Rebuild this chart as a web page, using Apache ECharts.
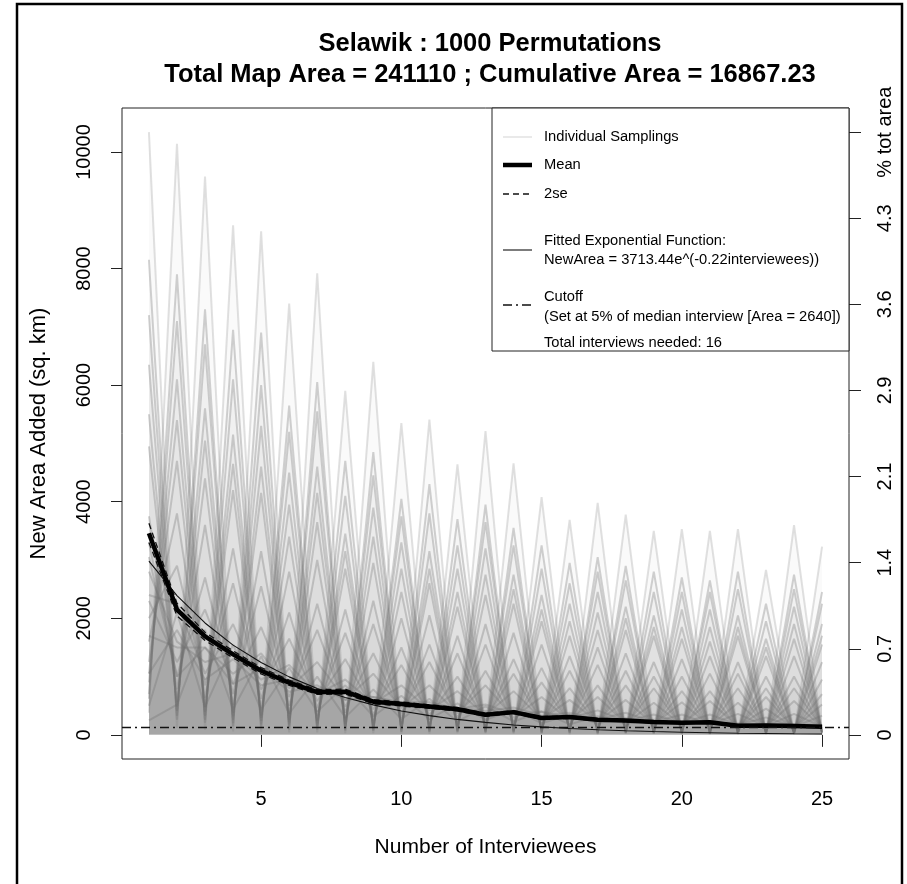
<!DOCTYPE html>
<html>
<head>
<meta charset="utf-8">
<script src="https://cdn.jsdelivr.net/npm/echarts@6/dist/echarts.min.js"></script>
<style>
  html, body { margin: 0; padding: 0; background: #fff; }
  #chart { width: 907px; height: 884px; }
</style>
</head>
<body>
<div id="chart"></div>
<script>
// number of interviewees on the x axis
const interviewees = [1, 2, 3, 4, 5, 6, 7, 8, 9, 10, 11, 12, 13, 14, 15, 16, 17, 18, 19, 20, 21, 22, 23, 24, 25];

// a handful of the individual samplings
const samplingA1 = [10340, 120, 9580, 60, 8640, 40, 7920, 30, 6400, 20, 5410, 30, 5210, 20, 4080, 10, 3980, 20, 3500, 10, 3500, 10, 2830, 10, 3230];
const samplingB1 = [380, 10140, 90, 8740, 50, 7400, 40, 5900, 30, 5350, 20, 4640, 30, 4660, 20, 3690, 10, 3780, 20, 3530, 10, 3530, 10, 3600, 20];
const samplingA2 = [8150, 260, 7300, 150, 6900, 90, 6050, 70, 4850, 50, 4300, 60, 3950, 40, 3250, 30, 3050, 40, 2800, 20, 2650, 30, 2250, 20, 2450];
const samplingB2 = [620, 7900, 210, 6950, 140, 5650, 90, 4700, 70, 4050, 50, 3700, 40, 3550, 30, 2950, 20, 2900, 30, 2700, 20, 2800, 20, 2750, 30];
const samplingA11 = [7200, 330, 6700, 200, 6000, 130, 5550, 90, 4450, 60, 3800, 50, 3650, 50, 2850, 40, 2800, 30, 2450, 30, 2450, 20, 1950, 30, 2250];
const samplingB11 = [700, 7100, 260, 6100, 180, 5200, 120, 4100, 80, 3750, 60, 3250, 50, 3250, 40, 2600, 30, 2650, 30, 2450, 20, 2500, 20, 2500, 40];
const samplingA3 = [6350, 410, 5600, 260, 5300, 180, 4600, 120, 3900, 90, 3150, 70, 3200, 60, 2400, 50, 2450, 40, 2050, 30, 2150, 30, 1650, 30, 1900];
const samplingB3 = [900, 6100, 330, 5150, 240, 4500, 160, 3450, 110, 3300, 80, 2850, 60, 2750, 50, 2250, 40, 2200, 30, 2150, 30, 2050, 20, 2200, 40];
const samplingA12 = [5500, 480, 5050, 320, 4600, 220, 4150, 150, 3400, 110, 2850, 90, 2750, 70, 2150, 60, 2100, 50, 1850, 40, 1850, 40, 1500, 30, 1700];
const samplingB12 = [1050, 5400, 400, 4650, 290, 3950, 200, 3150, 140, 2850, 100, 2450, 80, 2500, 60, 1950, 50, 2000, 40, 1850, 30, 1850, 30, 1900, 40];
const samplingA4 = [4950, 560, 4400, 380, 4150, 260, 3650, 190, 2950, 130, 2600, 110, 2400, 90, 1950, 70, 1800, 60, 1700, 50, 1600, 40, 1350, 40, 1550];
const samplingB4 = [1250, 4700, 480, 4200, 330, 3400, 240, 2850, 170, 2450, 130, 2200, 100, 2250, 80, 1700, 60, 1800, 50, 1650, 40, 1700, 40, 1650, 50];
const samplingA5 = [3750, 780, 3600, 520, 3150, 370, 3000, 270, 2300, 200, 2050, 160, 1900, 130, 1550, 100, 1500, 80, 1250, 70, 1350, 60, 1000, 50, 1250];
const samplingB5 = [1600, 3800, 640, 3200, 460, 2800, 330, 2150, 250, 2000, 190, 1700, 150, 1750, 110, 1350, 90, 1400, 70, 1300, 60, 1250, 50, 1350, 60];
const samplingA6 = [3050, 1000, 2700, 700, 2550, 500, 2250, 380, 1900, 290, 1550, 230, 1550, 180, 1150, 150, 1200, 120, 1000, 100, 1050, 90, 800, 70, 950];
const samplingB6 = [2000, 2900, 850, 2600, 620, 2100, 460, 1750, 340, 1500, 260, 1400, 210, 1300, 170, 1100, 130, 1100, 110, 1000, 90, 1050, 80, 1000, 90];
const samplingA7 = [2300, 1250, 2150, 880, 1850, 650, 1800, 480, 1400, 370, 1250, 300, 1100, 240, 900, 190, 850, 160, 800, 130, 750, 110, 650, 100, 700];
const samplingB7 = [2400, 2250, 1050, 1900, 780, 1650, 580, 1300, 440, 1200, 340, 1000, 270, 1050, 220, 800, 180, 850, 140, 750, 120, 800, 100, 800, 110];
const samplingA8 = [1700, 1500, 1500, 1050, 1400, 800, 1250, 600, 1050, 460, 850, 370, 850, 300, 650, 240, 650, 200, 550, 170, 580, 140, 450, 120, 520];
const samplingB8 = [2800, 1600, 1250, 1400, 950, 1200, 700, 950, 540, 850, 420, 750, 340, 750, 270, 600, 220, 600, 180, 560, 150, 550, 130, 580, 120];
const samplingA9 = [1050, 1800, 950, 1300, 850, 950, 800, 720, 650, 560, 560, 450, 520, 360, 400, 290, 420, 240, 350, 200, 350, 170, 300, 140, 330];
const samplingB9 = [3300, 1000, 1500, 870, 1150, 740, 850, 600, 650, 540, 510, 460, 410, 470, 330, 380, 270, 380, 220, 350, 180, 360, 150, 360, 140];
const samplingA10 = [500, 2100, 480, 1550, 430, 1150, 400, 850, 320, 670, 270, 540, 260, 430, 200, 350, 200, 290, 180, 240, 180, 200, 140, 170, 160];
const samplingB10 = [250, 520, 1800, 440, 1350, 370, 1000, 300, 780, 270, 620, 230, 490, 230, 400, 180, 320, 190, 260, 180, 210, 180, 180, 180, 170];

// mean of all samplings and its 2se band
const meanArea = [3460, 2150, 1690, 1380, 1100, 895, 735, 740, 570, 530, 485, 440, 345, 390, 290, 305, 260, 245, 220, 210, 215, 155, 160, 150, 140];
const upper2se = [3630, 2260, 1760, 1440, 1155, 940, 775, 785, 605, 565, 515, 470, 370, 415, 312, 325, 280, 262, 236, 225, 230, 168, 172, 162, 150];
const lower2se = [3300, 2040, 1620, 1320, 1045, 850, 695, 700, 535, 495, 455, 410, 320, 365, 268, 285, 240, 228, 204, 195, 200, 142, 148, 138, 130];

// fitted exponential, NewArea = 3713.44e^(-0.22 interviewees)
const fittedArea = [2980, 2390, 1920, 1540, 1240, 995, 795, 640, 515, 410, 330, 265, 215, 170, 137, 110, 88, 71, 57, 46, 37, 29, 24, 19, 15];

// cutoff: 5% of median interview area (2640)
const cutoffArea = 132;

// tick labels
const xTicks = [5, 10, 15, 20, 25];
const yTicks = [0, 2000, 4000, 6000, 8000, 10000];
const pctTicks = [0, 1477, 2954, 4431, 5909, 7386, 8863, 10340];
const pctLabels = ['0', '0.7', '1.4', '2.1', '2.9', '3.6', '4.3', '% tot area'];

const samplings = [
  samplingA1, samplingB1, samplingA2, samplingB2, samplingA11, samplingB11, samplingA3, samplingB3,
  samplingA12, samplingB12, samplingA4, samplingB4, samplingA5, samplingB5, samplingA6, samplingB6,
  samplingA7, samplingB7, samplingA8, samplingB8, samplingA9, samplingB9, samplingA10, samplingB10
];

const FONT = "'Liberation Sans', Arial, Helvetica, sans-serif";
const pairs = (ys) => interviewees.map((x, i) => [x, ys[i]]);

const chart = echarts.init(document.getElementById('chart'), null, { renderer: 'canvas' });

// 1000 overlapping lines read as a grey mass: each sampling gets a faint fill under it
const series = samplings.map((s, i) => ({
  name: 'Individual Samplings',
  type: 'line',
  data: pairs(s),
  symbol: 'none',
  silent: true,
  z: 1,
  lineStyle: { color: i < 2 ? 'rgba(120,120,120,0.22)' : 'rgba(110,110,110,0.3)', width: 2 },
  areaStyle: { color: 'rgba(115,115,115,0.05)', origin: 'auto' },
}));

series.push(
  {
    name: '2se upper',
    type: 'line',
    data: pairs(upper2se),
    symbol: 'none',
    z: 3,
    lineStyle: { color: '#111', width: 1.3, type: [6, 4] },
  },
  {
    name: '2se lower',
    type: 'line',
    data: pairs(lower2se),
    symbol: 'none',
    z: 3,
    lineStyle: { color: '#111', width: 1.3, type: [6, 4] },
  },
  {
    name: 'Fitted',
    type: 'line',
    data: pairs(fittedArea),
    symbol: 'none',
    z: 3,
    lineStyle: { color: '#111', width: 1.1 },
  },
  {
    name: 'Mean',
    type: 'line',
    data: pairs(meanArea),
    symbol: 'none',
    z: 4,
    lineStyle: { color: '#000', width: 4.5, join: 'round' },
    markLine: {
      silent: true,
      symbol: 'none',
      label: { show: false },
      lineStyle: { color: '#111', width: 1.3, type: [9, 4, 2, 4] },
      data: [{ yAxis: cutoffArea }],
    },
  }
);

// legend drawn by hand, R style box
const LX = 503, LX2 = 532, TX = 544;
const legendText = (txt, y) => ({
  type: 'text', z: 100,
  style: { text: txt, x: TX, y: y, font: '14.7px ' + FONT, fill: '#000', verticalAlign: 'middle' },
});
const legendLine = (y, style) => ({
  type: 'line', z: 100,
  shape: { x1: LX, y1: y, x2: LX2, y2: y },
  style: style,
});

const option = {
  animation: false,
  backgroundColor: '#fff',
  title: {
    text: 'Selawik : 1000 Permutations\nTotal Map Area = 241110 ; Cumulative Area = 16867.23',
    left: 485,
    top: 23,
    textAlign: 'center',
    textStyle: { fontFamily: FONT, fontSize: 25.5, fontWeight: 'bold', color: '#000', lineHeight: 31 },
  },
  grid: {
    left: 122, top: 108, width: 727, height: 651,
    show: true, borderColor: '#222', borderWidth: 1, backgroundColor: 'transparent',
  },
  xAxis: {
    type: 'value',
    min: 0.04, max: 25.96,
    name: 'Number of Interviewees',
    nameLocation: 'middle',
    nameGap: 78,
    nameTextStyle: { fontFamily: FONT, fontSize: 21, color: '#000' },
    axisLine: { show: false },
    axisTick: { show: true, inside: false, length: 12, customValues: xTicks, lineStyle: { color: '#222' } },
    axisLabel: { customValues: xTicks, fontFamily: FONT, fontSize: 20, color: '#000', margin: 30 },
    splitLine: { show: false },
  },
  yAxis: [
    {
      type: 'value',
      min: -414, max: 10754,
      name: 'New Area Added (sq. km)',
      nameLocation: 'middle',
      nameGap: 72,
      nameTextStyle: { fontFamily: FONT, fontSize: 22, color: '#000' },
      axisLine: { show: false },
      axisTick: { show: true, inside: false, length: 11, customValues: yTicks, lineStyle: { color: '#222' } },
      axisLabel: {
        customValues: yTicks, rotate: 90, fontFamily: FONT, fontSize: 20, color: '#000', margin: 28,
        formatter: (v) => String(v),
      },
      splitLine: { show: false },
    },
    {
      type: 'value',
      position: 'right',
      min: -414, max: 10754,
      axisLine: { show: false },
      axisTick: { show: true, inside: false, length: 12, customValues: pctTicks, lineStyle: { color: '#222' } },
      axisLabel: {
        customValues: pctTicks, rotate: 90, fontFamily: FONT, fontSize: 20, color: '#000', margin: 26,
        formatter: (v) => pctLabels[pctTicks.indexOf(v)],
      },
      splitLine: { show: false },
    },
  ],
  series: series,
  graphic: [
    // outer frame of the figure
    { type: 'rect', z: 100, shape: { x: 17, y: 4, width: 885, height: 900 }, style: { fill: 'none', stroke: '#000', lineWidth: 2.5 } },
    { type: 'rect', z: 99, shape: { x: 492, y: 108, width: 357, height: 243 }, style: { fill: '#fff', stroke: '#222', lineWidth: 1 } },
    legendLine(137, { stroke: '#e2e2e2', lineWidth: 1.5 }),
    legendText('Individual Samplings', 137),
    legendLine(165, { stroke: '#000', lineWidth: 4.5 }),
    legendText('Mean', 165),
    legendLine(194, { stroke: '#111', lineWidth: 1.3, lineDash: [6, 4] }),
    legendText('2se', 194),
    legendLine(250, { stroke: '#111', lineWidth: 1.1 }),
    legendText('Fitted Exponential Function:', 241),
    legendText('NewArea = 3713.44e^(-0.22interviewees))', 260),
    legendLine(305, { stroke: '#111', lineWidth: 1.3, lineDash: [9, 4, 2, 4] }),
    legendText('Cutoff', 297),
    legendText('(Set at 5% of median interview [Area = 2640])', 317),
    legendText('Total interviews needed: 16', 343),
  ],
};

chart.setOption(option);
</script>
</body>
</html>
